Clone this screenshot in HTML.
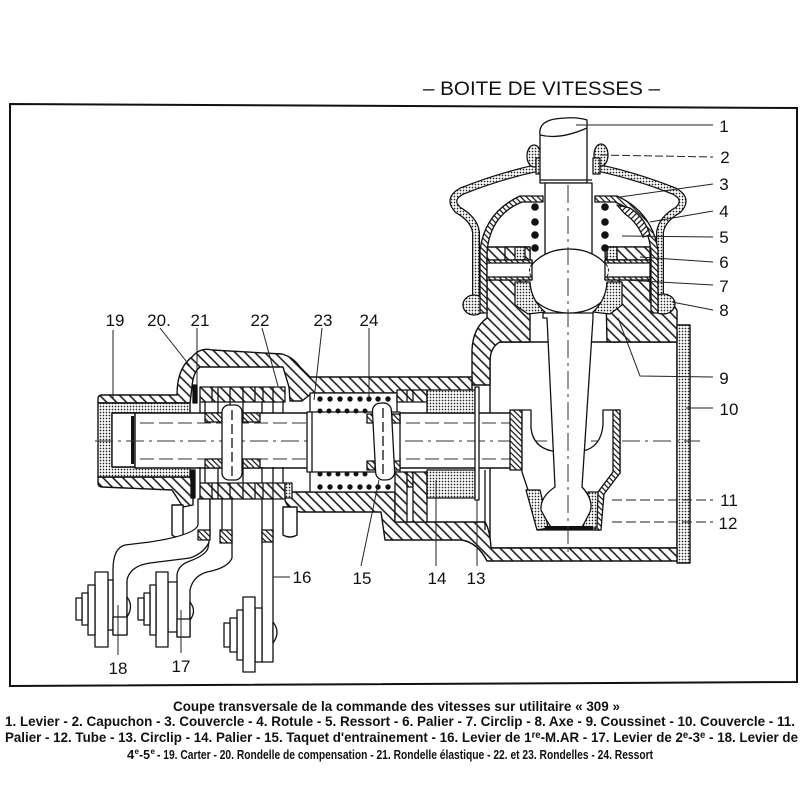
<!DOCTYPE html>
<html><head><meta charset="utf-8"><style>
html,body{margin:0;padding:0;background:#fff;}
svg{display:block;}
text{font-family:"Liberation Sans",Arial,sans-serif;fill:#111;}
</style></head><body>
<svg width="800" height="800" viewBox="0 0 800 800" xmlns="http://www.w3.org/2000/svg">
<defs>
<pattern id="h" patternUnits="userSpaceOnUse" width="7" height="7" patternTransform="rotate(-45)"><rect width="7" height="7" fill="#fff"/><line x1="1" y1="0" x2="1" y2="7" stroke="#111" stroke-width="1.5"/></pattern>
<pattern id="hd" patternUnits="userSpaceOnUse" width="4" height="4" patternTransform="rotate(-45)"><rect width="4" height="4" fill="#fff"/><line x1="1" y1="0" x2="1" y2="4" stroke="#111" stroke-width="1.2"/></pattern>
<pattern id="hr" patternUnits="userSpaceOnUse" width="4" height="4" patternTransform="rotate(45)"><rect width="4" height="4" fill="#fff"/><line x1="1" y1="0" x2="1" y2="4" stroke="#111" stroke-width="1.2"/></pattern>
<pattern id="s" patternUnits="userSpaceOnUse" width="3" height="3"><rect width="3" height="3" fill="#fff"/><circle cx="1.5" cy="1.5" r="0.85" fill="#222"/></pattern>
</defs>
<rect width="800" height="800" fill="#fff"/>

<path d="M10,104 L797,108 L797,682 L10,686 Z" fill="none" stroke="#111" stroke-width="2"/>
<text x="423" y="95" font-size="19" textLength="237" lengthAdjust="spacingAndGlyphs">– BOITE DE VITESSES –</text>

<g stroke="#111" stroke-width="1.4" stroke-linejoin="round">
<rect x="490" y="342" width="187" height="206" fill="#fff"/>
<path d="M670,325 L690,325 L690,563 L677,563 L677,332 L670,332 Z" fill="url(#s)"/>
<path d="M285,492 L395,492 L395,522 L485,522 Q490,530 491,548 L677,548 L677,561 L487,561 Q478,543 462,540 L385,540 L381,512 L300,512 Q288,510 285,500 Z" fill="url(#h)"/>
<path d="M472,385 L472,350 Q473,328 487,318 L487,247 L530,247 L530,342 L500,342 Q490,347 490,362 L490,385 Z" fill="url(#h)"/>
<path d="M605,247 L650,247 L650,300 L670,300 L677,310 L677,342 L607,342 Z" fill="url(#h)"/>
<path d="M98,399 Q98,395 102,395 L177,395 Q177,368 192,357 Q200,347 212,350 L282,354 Q293,357 300,367 L310,377 L472,377 L472,393 L312,393 L302,401 L290,401 L289,387 L283,367 L200,367 Q193,372 192,387 L190,403 L98,403 Z" fill="url(#h)"/>
<path d="M98,477 L190,477 L193,487 L193,505 L183,507 L172,490 L102,487 Q98,487 98,483 Z" fill="url(#h)"/>
<path d="M98,403 L190,403 L190,413 L112,413 L112,467 L190,467 L190,477 L98,477 Z" fill="url(#s)"/>
<path d="M172,505 L183,505 L183,535 Q177,539 172,535 Z" fill="#fff"/>
<path d="M283,507 L297,507 L297,535 Q290,539 283,535 Z" fill="#fff"/>
<rect x="112" y="413" width="23" height="54" fill="#fff"/>
<rect x="135" y="413" width="385" height="55" fill="#fff"/>
</g>
<rect x="131" y="416" width="3" height="48" fill="#111"/>
<g stroke="#333" stroke-width="1" fill="none">
<line x1="140" y1="423" x2="520" y2="423" stroke-dasharray="14,5"/>
<line x1="140" y1="459" x2="520" y2="459" stroke-dasharray="14,5"/>
<line x1="95" y1="441" x2="700" y2="441" stroke-dasharray="18,5,3,5"/>
</g>

<g stroke="#111" stroke-width="1.3" stroke-linejoin="round">
<rect x="200" y="387" width="85" height="15" fill="url(#h)"/>
<rect x="200" y="483" width="85" height="16" fill="url(#h)"/>
<rect x="285" y="483" width="7" height="15" fill="url(#s)"/>
<path d="M212,387V402M218,387V402M230,387V402M243,387V402M255,387V402M263,387V402M273,387V402M212,483V499M218,483V499M230,483V499M243,483V499M255,483V499M263,483V499M273,483V499" fill="none"/>
<path d="M200,402V413M205,402V413M218,402V413M230,402V413M243,402V413M262,402V413M273,402V413M283,402V413M200,467V483M205,467V483M218,467V483M243,467V483M262,467V483M273,467V483M283,467V483" fill="none"/>
<rect x="193" y="385" width="4" height="18" fill="#111"/>
<rect x="191" y="470" width="4" height="28" fill="#111"/>
<rect x="205" y="413" width="17" height="9" fill="url(#hd)"/>
<rect x="205" y="459" width="17" height="9" fill="url(#hd)"/>
<rect x="243" y="413" width="17" height="9" fill="url(#hd)"/>
<rect x="243" y="459" width="17" height="9" fill="url(#hd)"/>
<rect x="222" y="405" width="20" height="75" rx="7" fill="#fff"/>
<line x1="232" y1="410" x2="232" y2="476" stroke-dasharray="10,4"/>
<rect x="310" y="393" width="87" height="99" fill="#fff"/>
<rect x="307" y="412" width="93" height="60" fill="#fff"/>
<line x1="312" y1="412" x2="312" y2="472"/>
<rect x="367" y="414" width="8" height="9" fill="url(#hd)"/>
<rect x="367" y="461" width="8" height="9" fill="url(#hd)"/>
<rect x="392" y="414" width="8" height="9" fill="url(#hd)"/>
<rect x="392" y="461" width="8" height="9" fill="url(#hd)"/>
<rect x="374" y="403" width="19" height="77" rx="8" fill="#fff" transform="rotate(-3 383 441)"/>
<line x1="383" y1="408" x2="383" y2="474" stroke-dasharray="10,4"/>
<rect x="397" y="390" width="30" height="12" fill="url(#h)"/>
<path d="M407,390V402M413,390V402" fill="none"/>
<rect x="395" y="472" width="12" height="50" fill="url(#h)"/>
<rect x="407" y="472" width="6" height="15" fill="url(#hd)"/>
<rect x="413" y="472" width="14" height="50" fill="url(#h)"/>
<rect x="427" y="390" width="48" height="23" fill="url(#s)"/>
<rect x="427" y="470" width="48" height="28" fill="url(#s)"/>
<rect x="475" y="387" width="4" height="113" fill="#fff"/>
<line x1="485" y1="470" x2="485" y2="530"/>
</g>
<g fill="#111">
<circle cx="320" cy="399" r="2.7"/><circle cx="330" cy="399" r="2.7"/><circle cx="340" cy="399" r="2.7"/><circle cx="350" cy="399" r="2.7"/><circle cx="360" cy="399" r="2.7"/><circle cx="369" cy="399" r="2.7"/><circle cx="378" cy="399" r="2.7"/><circle cx="388" cy="399" r="2.7"/>
<circle cx="320" cy="411" r="2.5"/><circle cx="329" cy="411" r="2.5"/><circle cx="338" cy="411" r="2.5"/><circle cx="347" cy="411" r="2.5"/><circle cx="356" cy="411" r="2.5"/><circle cx="365" cy="411" r="2.5"/>
<circle cx="320" cy="474" r="2.5"/><circle cx="329" cy="474" r="2.5"/><circle cx="338" cy="474" r="2.5"/><circle cx="347" cy="474" r="2.5"/><circle cx="356" cy="474" r="2.5"/><circle cx="365" cy="474" r="2.5"/>
<circle cx="320" cy="487" r="2.7"/><circle cx="330" cy="487" r="2.7"/><circle cx="340" cy="487" r="2.7"/><circle cx="350" cy="487" r="2.7"/><circle cx="360" cy="487" r="2.7"/><circle cx="369" cy="487" r="2.7"/><circle cx="378" cy="487" r="2.7"/><circle cx="388" cy="487" r="2.7"/>
</g>

<g stroke="#111" stroke-width="1.3" stroke-linejoin="round">
<rect x="510" y="410" width="12" height="60" fill="url(#hd)"/>
<path d="M522,410 L531,410 L531,428 Q533,447 552,451 L583,451 Q601,447 603,425 L603,410 L620,410 L620,473 L604,492 L600,530 L537,530 L528,490 L522,472 Z" fill="#fff"/>
<path d="M613,410 L620,410 L620,473 L604,494 L601,530 L595,530 L598,492 L613,472 Z" fill="url(#hd)"/>
<path d="M526,490 L540,490 Q545,510 548,528 L537,530 Z" fill="url(#s)"/>
<path d="M588,492 L598,492 L597,528 L583,528 Q588,510 588,492 Z" fill="url(#s)"/>
<path d="M543,313 L593,313 L593,318 L582,487 Q594,500 590,512 Q585,522 582,527 L551,527 Q546,520 541,510 Q540,497 555,487 L547,318 L543,318 Z" fill="#fff"/>
</g>
<rect x="545" y="526" width="48" height="4" fill="#111"/>

<g stroke-linejoin="round" fill="none">
<path d="M537,168 Q500,176 462,191 Q447,199 458,210 Q474,219 476,232 L476,297" stroke="#111" stroke-width="8"/>
<path d="M599,168 Q636,176 674,191 Q689,199 678,210 Q662,219 660,232 L660,297" stroke="#111" stroke-width="8"/>
<path d="M537,168 Q500,176 462,191 Q447,199 458,210 Q474,219 476,232 L476,297" stroke="url(#s)" stroke-width="5.5"/>
<path d="M599,168 Q636,176 674,191 Q689,199 678,210 Q662,219 660,232 L660,297" stroke="url(#s)" stroke-width="5.5"/>
</g>
<g stroke="#111" stroke-width="1.3" stroke-linejoin="round">
<ellipse cx="474" cy="305" rx="11" ry="10" fill="url(#s)"/>
<ellipse cx="663" cy="304" rx="12" ry="10" fill="url(#s)"/>
<ellipse cx="534" cy="156" rx="7" ry="11" fill="url(#s)"/>
<ellipse cx="601" cy="155" rx="7" ry="11" fill="url(#s)"/>
<rect x="536" y="158" width="7" height="16" fill="url(#s)"/>
<rect x="593" y="158" width="7" height="16" fill="url(#s)"/>
<path d="M543,196 L520,196 Q485,212 480,250 L480,313 L487,313 L487,252 Q490,215 522,202 L543,202 Z" fill="url(#hd)"/>
<path d="M595,196 L617,196 Q652,212 658,250 L658,313 L651,313 L651,252 Q648,215 615,202 L595,202 Z" fill="url(#hd)"/>
<path d="M617,205 L630,208 Q645,218 650,235 L643,237 Q637,222 625,214 Z" fill="url(#hr)"/>
<path d="M540,135 Q538,122 555,119 Q575,116 587,120 L587,183 L540,183 Z" fill="#fff"/>
<path d="M540,135 Q560,140 587,128" fill="none"/>
<rect x="545" y="183" width="47" height="72" fill="#fff"/>
<line x1="540" y1="180" x2="592" y2="180"/>
<ellipse cx="569" cy="281" rx="43" ry="32" fill="#fff"/>
<rect x="505" y="247" width="25" height="13" fill="url(#h)"/>
<rect x="515" y="247" width="10" height="13" fill="url(#s)"/>
<rect x="607" y="247" width="43" height="13" fill="url(#h)"/>
<rect x="607" y="247" width="10" height="13" fill="url(#s)"/>
<rect x="487" y="260" width="45" height="20" fill="#fff"/>
<rect x="605" y="260" width="45" height="20" fill="#fff"/>
<rect x="487" y="260" width="45" height="3" fill="url(#hd)"/>
<rect x="487" y="277" width="45" height="3" fill="url(#hd)"/>
<rect x="605" y="260" width="45" height="3" fill="url(#hd)"/>
<rect x="605" y="277" width="45" height="3" fill="url(#hd)"/>
<path d="M515,282 L530,282 Q531,300 545,312 L528,314 L515,305 Z" fill="url(#s)"/>
<path d="M622,282 L607,282 Q606,300 593,312 L610,314 L622,305 Z" fill="url(#s)"/>
</g>
<path d="M532,264 Q527,271 532,278 M606,264 Q611,271 606,278" stroke="#111" stroke-width="1" fill="none" stroke-dasharray="3,2"/>
<g fill="#111">
<circle cx="535" cy="207" r="3.8"/><circle cx="535" cy="222" r="3.8"/><circle cx="535" cy="235" r="3.8"/><circle cx="535" cy="248" r="3.8"/>
<circle cx="605" cy="207" r="3.8"/><circle cx="605" cy="222" r="3.8"/><circle cx="605" cy="235" r="3.8"/><circle cx="605" cy="248" r="3.8"/>
</g>
<line x1="568" y1="185" x2="568" y2="555" stroke="#333" stroke-width="1" stroke-dasharray="18,5,3,5"/>

<g stroke="#111" stroke-width="1.3" stroke-linejoin="round" fill="#fff">
<path d="M198,499 L210,499 L210,540 Q205,553 190,558 L150,563 Q130,566 127,580 L127,635 L113,635 L113,570 Q113,548 125,545 L150,542 Q195,535 198,525 Z"/>
<path d="M210,499 L232,499 L232,558 Q228,568 207,572 Q193,576 190,590 L190,637 L177,637 L177,575 Q178,565 190,561 Q206,555 208,548 L210,535 Z"/>
<line x1="222" y1="499" x2="222" y2="530"/>
<rect x="198" y="530" width="12" height="10" fill="url(#hd)"/>
<rect x="220" y="530" width="12" height="13" fill="url(#hd)"/>
<rect x="262" y="499" width="11" height="163"/>
<rect x="262" y="530" width="11" height="12" fill="url(#hd)"/>
<path d="M127,597 Q134,606 127,617 Z"/>
<rect x="108" y="580" width="5" height="50"/>
<rect x="113" y="617" width="14" height="18"/>
<rect x="95" y="572" width="13" height="75"/>
<rect x="88" y="585" width="7" height="50"/>
<rect x="82" y="593" width="6" height="32"/>
<rect x="76" y="598" width="6" height="22"/>
<path d="M190,602 Q197,611 190,620 Z"/>
<rect x="168" y="582" width="9" height="50"/>
<rect x="177" y="619" width="13" height="18"/>
<rect x="156" y="572" width="12" height="75"/>
<rect x="150" y="585" width="6" height="50"/>
<rect x="144" y="593" width="6" height="32"/>
<rect x="138" y="598" width="6" height="22"/>
<path d="M273,622 Q281,632 273,643 Z"/>
<rect x="255" y="608" width="7" height="54"/>
<rect x="243" y="597" width="12" height="75"/>
<rect x="237" y="610" width="6" height="50"/>
<rect x="230" y="618" width="7" height="34"/>
<rect x="224" y="623" width="6" height="24"/>
</g>

<g stroke="#222" stroke-width="1" fill="none">
<line x1="576" y1="125" x2="713" y2="125"/>
<line x1="600" y1="155" x2="713" y2="157" stroke-dasharray="8,3"/>
<line x1="620" y1="197" x2="713" y2="184"/>
<line x1="650" y1="222" x2="713" y2="211"/>
<line x1="622" y1="236" x2="713" y2="237"/>
<line x1="640" y1="257" x2="713" y2="262"/>
<line x1="625" y1="280" x2="713" y2="285"/>
<line x1="672" y1="302" x2="713" y2="310"/>
<polyline points="618,318 640,376 713,377"/>
<line x1="686" y1="408" x2="713" y2="408"/>
<line x1="612" y1="500" x2="713" y2="500" stroke-dasharray="10,4"/>
<line x1="612" y1="522" x2="713" y2="522" stroke-dasharray="10,4"/>
<line x1="113" y1="330" x2="113" y2="398"/>
<line x1="160" y1="328" x2="190" y2="366"/>
<line x1="197" y1="328" x2="197" y2="386"/>
<line x1="262" y1="328" x2="278" y2="386"/>
<line x1="322" y1="328" x2="314" y2="400"/>
<line x1="369" y1="328" x2="369" y2="398"/>
<line x1="290" y1="577" x2="273" y2="577"/>
<line x1="361" y1="566" x2="379" y2="480"/>
<line x1="436" y1="566" x2="436" y2="480"/>
<line x1="477" y1="566" x2="477" y2="500"/>
<line x1="118" y1="655" x2="118" y2="605"/>
<line x1="181" y1="653" x2="181" y2="610"/>
</g>

<g font-size="17" text-anchor="middle">
<text x="724" y="132">1</text>
<text x="725" y="163">2</text>
<text x="724" y="190">3</text>
<text x="724" y="217">4</text>
<text x="724" y="243">5</text>
<text x="724" y="268">6</text>
<text x="724" y="292">7</text>
<text x="724" y="316">8</text>
<text x="724" y="384">9</text>
<text x="729" y="415">10</text>
<text x="729" y="506">11</text>
<text x="728" y="529">12</text>
<text x="115" y="326">19</text>
<text x="159" y="326">20.</text>
<text x="200" y="326">21</text>
<text x="260" y="326">22</text>
<text x="323" y="326">23</text>
<text x="369" y="326">24</text>
<text x="302" y="583">16</text>
<text x="362" y="584">15</text>
<text x="437" y="584">14</text>
<text x="476" y="584">13</text>
<text x="118" y="674">18</text>
<text x="181" y="672">17</text>
</g>

<g font-size="14" font-weight="bold">
<text x="173" y="711" textLength="447" lengthAdjust="spacingAndGlyphs">Coupe transversale de la commande des vitesses sur utilitaire « 309 »</text>
<text x="5" y="726" textLength="790" lengthAdjust="spacingAndGlyphs">1. Levier - 2. Capuchon - 3. Couvercle - 4. Rotule - 5. Ressort - 6. Palier - 7. Circlip - 8. Axe - 9. Coussinet - 10. Couvercle - 11.</text>
<text x="5" y="742" textLength="793" lengthAdjust="spacingAndGlyphs">Palier - 12. Tube - 13. Circlip - 14. Palier - 15. Taquet d'entrainement - 16. Levier de 1<tspan font-size="10" dy="-4">re</tspan><tspan dy="4">-M.AR - 17. Levier de 2</tspan><tspan font-size="10" dy="-4">e</tspan><tspan dy="4">-3</tspan><tspan font-size="10" dy="-4">e</tspan><tspan dy="4"> - 18. Levier de</tspan></text>
<text x="127" y="759" font-size="13">4</text>
<text x="134.5" y="754" font-size="8">e</text>
<text x="139" y="759" font-size="13" textLength="11" lengthAdjust="spacingAndGlyphs">-5</text>
<text x="150.5" y="754" font-size="8">e</text>
<text x="157" y="759" font-size="13" textLength="496" lengthAdjust="spacingAndGlyphs"> - 19. Carter - 20. Rondelle de compensation - 21. Rondelle élastique - 22. et 23. Rondelles - 24. Ressort</text>
</g>
</svg>
</body></html>
